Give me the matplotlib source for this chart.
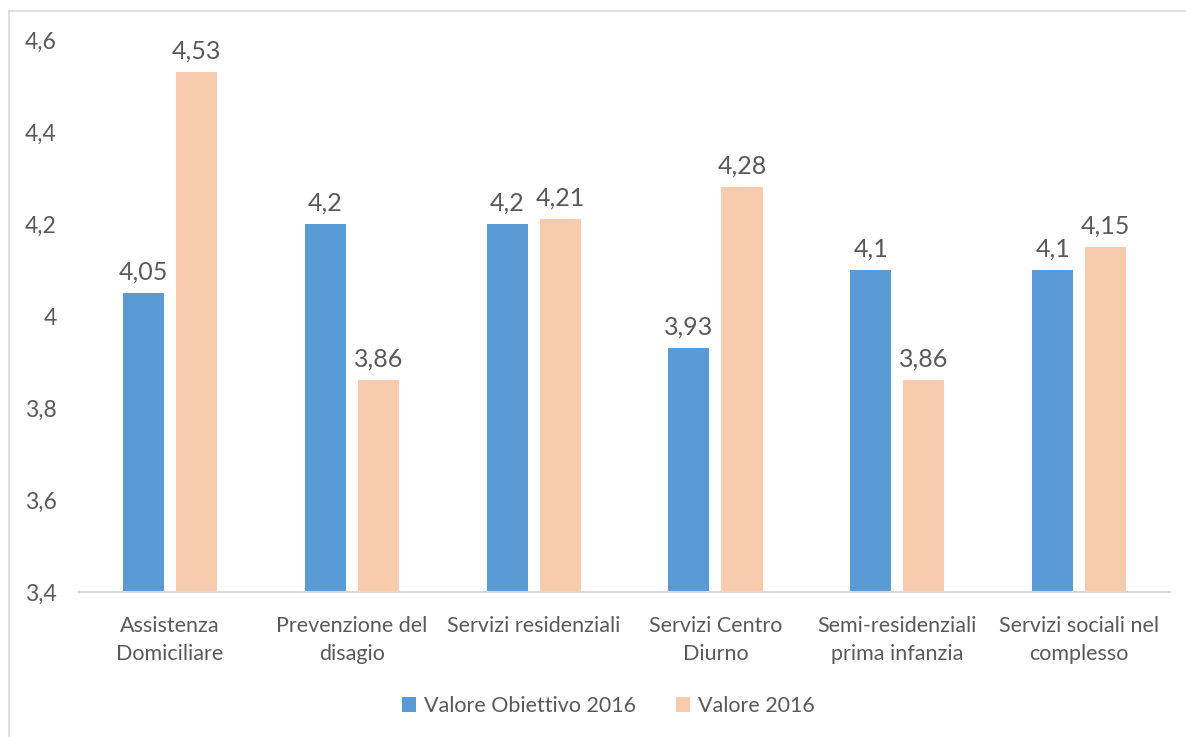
import matplotlib
matplotlib.use("Agg")
import matplotlib.pyplot as plt
from matplotlib.lines import Line2D
from matplotlib.patches import Patch
import numpy as np

categories = [
    "Assistenza\nDomiciliare",
    "Prevenzione del\ndisagio",
    "Servizi residenziali",
    "Servizi Centro\nDiurno",
    "Semi-residenziali\nprima infanzia",
    "Servizi sociali nel\ncomplesso",
]
obiettivo_2016 = [4.05, 4.2, 4.2, 3.93, 4.1, 4.1]
valore_2016 = [4.53, 3.86, 4.21, 4.28, 3.86, 4.15]
series_names = ["Valore Obiettivo 2016", "Valore 2016"]
y_ticks = [3.4, 3.6, 3.8, 4.0, 4.2, 4.4, 4.6]
y_tick_labels = ["3,4", "3,6", "3,8", "4", "4,2", "4,4", "4,6"]

BLUE = "#5B9BD5"
PEACH = "#F8CBAD"
TEXT = "#595959"
AXIS = "#D9D9D9"

plt.rcParams["font.family"] = ["Lato", "DejaVu Sans"]

fig = plt.figure(figsize=(11.86, 7.37), dpi=100)
ax = fig.add_axes([0.0666, 0.1967, 0.92, 0.749])

x = np.arange(len(categories))
w = 0.226
off = 0.146
ax.bar(x - off, np.array(obiettivo_2016) - 3.4, w, bottom=3.4, color=BLUE)
ax.bar(x + off, np.array(valore_2016) - 3.4, w, bottom=3.4, color=PEACH)

def fmt(v):
    s = f"{v:.2f}".rstrip("0").rstrip(".")
    return s.replace(".", ",")

for xs, vals in ((x - off, obiettivo_2016), (x + off, valore_2016)):
    for xi, v in zip(xs, vals):
        ax.annotate(fmt(v), (xi, v), xytext=(0, 7), textcoords="offset points",
                    ha="center", va="bottom", fontsize=18, color=TEXT)

ax.set_xlim(-0.5, len(categories) - 0.5)
ax.set_ylim(3.4, 4.6)
ax.set_yticks(y_ticks)
ax.set_yticklabels(y_tick_labels)
ax.set_xticks(x)
ax.set_xticklabels(categories, linespacing=1.5)
ax.tick_params(axis="y", length=0, pad=16, labelsize=16.5, labelcolor=TEXT)
ax.tick_params(axis="x", length=0, pad=17, labelsize=15.5, labelcolor=TEXT)
for s in ("top", "right", "left"):
    ax.spines[s].set_visible(False)
ax.spines["bottom"].set_color(AXIS)
ax.spines["bottom"].set_linewidth(1.5)

handles = [Patch(facecolor=BLUE), Patch(facecolor=PEACH)]
fig.legend(handles, series_names, loc="center", bbox_to_anchor=(0.513, 0.042),
           ncol=2, frameon=False, fontsize=15.5, labelcolor=TEXT,
           handlelength=0.65, handleheight=0.65, handletextpad=0.35, columnspacing=1.9)

# outer chart frame (left and top edges)
fig.add_artist(Line2D([9 / 1186, 9 / 1186], [0, 1 - 11 / 737], transform=fig.transFigure,
                      color=AXIS, lw=1.2))
fig.add_artist(Line2D([9 / 1186, 1], [1 - 11 / 737, 1 - 11 / 737], transform=fig.transFigure,
                      color=AXIS, lw=1.2))

fig.savefig("out.png", dpi=100, facecolor="white")
